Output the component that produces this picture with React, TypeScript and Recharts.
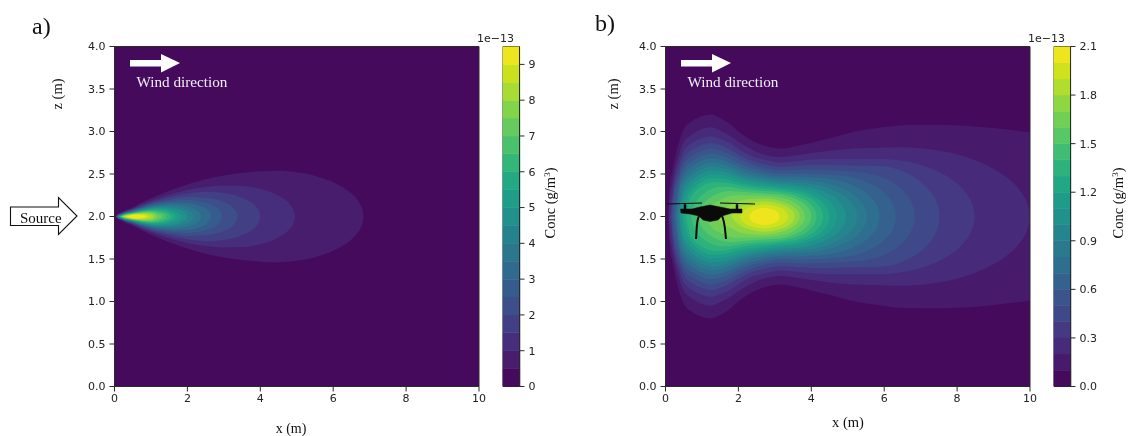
import React from "react"
import { Area, Bar, BarChart, ComposedChart, ReferenceArea, XAxis, YAxis } from "recharts"

// contour outlines, [x in m, half height around z = 2 in m]
const a00 = [[0, 2], [10, 2]]
const a05 = [[0.02, 0], [0.1, 0.033], [0.2, 0.051], [0.3, 0.075], [0.45, 0.098], [0.6, 0.13], [0.8, 0.174], [1, 0.214], [1.3, 0.268], [1.6, 0.317], [2, 0.377], [2.5, 0.437], [3, 0.482], [3.5, 0.511], [4, 0.531], [4.5, 0.537], [5, 0.52], [5.53, 0.475], [6.26, 0.345], [6.5, 0.27], [6.68, 0.186], [6.78, 0.11], [6.82, 0.05], [6.83, 0]]
const a10 = [[0.03, 0], [0.1, 0.027], [0.2, 0.044], [0.3, 0.066], [0.45, 0.086], [0.6, 0.114], [0.8, 0.152], [1, 0.186], [1.3, 0.23], [1.6, 0.267], [2, 0.312], [2.5, 0.347], [3, 0.364], [3.5, 0.36], [4, 0.325], [4.53, 0.237], [4.8, 0.148], [4.92, 0.067], [4.945, 0.03], [4.95, 0]]
const a15 = [[0.04, 0], [0.1, 0.023], [0.2, 0.039], [0.3, 0.059], [0.45, 0.078], [0.6, 0.103], [0.8, 0.137], [1, 0.167], [1.3, 0.204], [1.6, 0.234], [2, 0.267], [2.5, 0.29], [3, 0.276], [3.52, 0.215], [3.89, 0.111], [3.98, 0.048], [4, 0]]
const a20 = [[0.05, 0], [0.1, 0.02], [0.2, 0.035], [0.3, 0.054], [0.45, 0.071], [0.6, 0.095], [0.8, 0.125], [1, 0.152], [1.3, 0.184], [1.6, 0.207], [2, 0.229], [2.5, 0.222], [3, 0.169], [3.25, 0.105], [3.36, 0.042], [3.38, 0]]
const a25 = [[0.06, 0], [0.1, 0.017], [0.2, 0.032], [0.3, 0.05], [0.45, 0.066], [0.6, 0.088], [0.8, 0.116], [1, 0.14], [1.3, 0.167], [1.6, 0.183], [2, 0.195], [2.5, 0.163], [2.83, 0.093], [2.93, 0.039], [2.95, 0]]
const a30 = [[0.07, 0], [0.1, 0.014], [0.2, 0.029], [0.3, 0.046], [0.45, 0.061], [0.6, 0.081], [0.8, 0.107], [1, 0.129], [1.3, 0.151], [1.6, 0.161], [2, 0.16], [2.3, 0.133], [2.55, 0.078], [2.63, 0.036], [2.65, 0]]
const a35 = [[0.08, 0], [0.1, 0.01], [0.2, 0.026], [0.3, 0.042], [0.45, 0.057], [0.6, 0.076], [0.8, 0.1], [1, 0.119], [1.3, 0.136], [1.6, 0.14], [2, 0.12], [2.25, 0.077], [2.36, 0.032], [2.38, 0]]
const a40 = [[0.09, 0], [0.2, 0.024], [0.3, 0.039], [0.45, 0.053], [0.6, 0.07], [0.8, 0.092], [1, 0.11], [1.3, 0.122], [1.6, 0.118], [2, 0.077], [2.15, 0.028], [2.17, 0]]
const a45 = [[0.1, 0], [0.2, 0.021], [0.3, 0.036], [0.45, 0.049], [0.6, 0.065], [0.8, 0.086], [1, 0.1], [1.3, 0.108], [1.6, 0.0975], [1.9, 0.056], [1.98, 0.026], [2, 0]]
const a50 = [[0.11, 0], [0.2, 0.018], [0.3, 0.033], [0.45, 0.045], [0.6, 0.06], [0.8, 0.079], [1, 0.092], [1.3, 0.094], [1.6, 0.069], [1.81, 0.025], [1.83, 0]]
const a55 = [[0.12, 0], [0.2, 0.016], [0.3, 0.03], [0.45, 0.042], [0.6, 0.056], [0.8, 0.072], [1, 0.083], [1.3, 0.079], [1.55, 0.05], [1.66, 0.022], [1.68, 0]]
const a60 = [[0.14, 0], [0.2, 0.012], [0.3, 0.027], [0.45, 0.038], [0.6, 0.051], [0.8, 0.066], [1, 0.074], [1.3, 0.062], [1.53, 0.022], [1.55, 0]]
const a65 = [[0.16, 0], [0.3, 0.024], [0.45, 0.034], [0.6, 0.046], [0.8, 0.059], [1, 0.064], [1.3, 0.04], [1.4, 0.02], [1.42, 0]]
const a70 = [[0.18, 0], [0.3, 0.02], [0.45, 0.031], [0.6, 0.041], [0.8, 0.052], [1, 0.054], [1.2, 0.03], [1.29, 0.015], [1.3, 0]]
const a75 = [[0.2, 0], [0.3, 0.017], [0.45, 0.027], [0.6, 0.036], [0.8, 0.045], [1, 0.043], [1.15, 0.015], [1.17, 0]]
const a80 = [[0.23, 0], [0.3, 0.012], [0.45, 0.022], [0.6, 0.031], [0.8, 0.037], [1, 0.028], [1.06, 0.012], [1.07, 0]]
const a85 = [[0.27, 0], [0.35, 0.012], [0.45, 0.02], [0.6, 0.028], [0.8, 0.027], [0.95, 0.01], [0.97, 0]]
const a90 = [[0.33, 0], [0.45, 0.018], [0.6, 0.025], [0.75, 0.018], [0.86, 0.008], [0.87, 0]]

const b00 = [[0, 2], [10, 2]]
const b01 = [[0.07, 0], [0.1, 0.28], [0.21, 0.58], [0.35, 0.84], [0.48, 1.01], [0.75, 1.13], [1, 1.18], [1.25, 1.2], [1.5, 1.16], [1.76, 1.09], [2, 1], [2.31, 0.91], [2.7, 0.835], [3.18, 0.8], [3.6, 0.83], [4.05, 0.875], [4.5, 0.92], [5.14, 0.995], [5.8, 1.04], [6.6, 1.076], [7.3, 1.08], [7.97, 1.074], [9, 1.04], [10, 0.99]]
const b02 = [[0.09, 0], [0.1, 0.1], [0.21, 0.447], [0.35, 0.69], [0.48, 0.86], [0.75, 0.97], [1, 1.03], [1.25, 1.05], [1.5, 1.01], [1.76, 0.95], [2, 0.88], [2.31, 0.8], [2.7, 0.73], [3.18, 0.7], [3.6, 0.72], [4.05, 0.75], [4.5, 0.775], [5.14, 0.8], [5.8, 0.81], [6.43, 0.816], [7.25, 0.79], [7.97, 0.734], [8.5, 0.662], [9, 0.563], [9.4, 0.448], [9.7, 0.322], [9.88, 0.2], [9.96, 0.105], [9.985, 0.05], [9.99, 0]]
const b03 = [[0.13, 0], [0.21, 0.346], [0.35, 0.59], [0.48, 0.755], [0.75, 0.87], [1, 0.92], [1.25, 0.945], [1.5, 0.916], [1.76, 0.864], [2, 0.796], [2.31, 0.72], [2.7, 0.67], [3.18, 0.635], [3.6, 0.65], [4.05, 0.67], [4.5, 0.68], [5.14, 0.68], [5.8, 0.68], [6.6, 0.65], [7.3, 0.563], [7.6, 0.504], [8.11, 0.345], [8.3, 0.245], [8.42, 0.143], [8.47, 0.06], [8.48, 0]]
const b04 = [[0.16, 0], [0.21, 0.25], [0.35, 0.51], [0.48, 0.67], [0.75, 0.79], [1, 0.84], [1.25, 0.865], [1.5, 0.84], [1.76, 0.79], [2, 0.73], [2.31, 0.666], [2.7, 0.615], [3.18, 0.585], [3.6, 0.595], [4.05, 0.605], [4.5, 0.605], [5.14, 0.6], [5.88, 0.594], [6.62, 0.51], [7.17, 0.345], [7.35, 0.247], [7.45, 0.16], [7.51, 0.06], [7.52, 0]]
const b05 = [[0.195, 0], [0.21, 0.137], [0.35, 0.434], [0.48, 0.6], [0.75, 0.72], [1, 0.775], [1.25, 0.8], [1.5, 0.777], [1.76, 0.734], [2, 0.678], [2.31, 0.62], [2.7, 0.57], [3.18, 0.54], [3.6, 0.55], [4.05, 0.553], [4.5, 0.545], [5.15, 0.53], [5.97, 0.455], [6.48, 0.318], [6.65, 0.237], [6.75, 0.165], [6.83, 0.055], [6.84, 0]]
const b06 = [[0.23, 0], [0.35, 0.36], [0.48, 0.534], [0.75, 0.656], [1, 0.714], [1.25, 0.74], [1.5, 0.72], [1.76, 0.68], [2, 0.63], [2.31, 0.576], [2.7, 0.534], [3.18, 0.505], [3.6, 0.507], [4.05, 0.504], [4.5, 0.49], [5.14, 0.459], [5.6, 0.39], [6.05, 0.257], [6.25, 0.134], [6.31, 0.05], [6.32, 0]]
const b07 = [[0.27, 0], [0.35, 0.28], [0.48, 0.47], [0.75, 0.6], [1, 0.66], [1.25, 0.686], [1.5, 0.67], [1.76, 0.635], [2, 0.587], [2.31, 0.538], [2.7, 0.5], [3.18, 0.47], [3.6, 0.47], [4.05, 0.46], [4.5, 0.443], [5.2, 0.354], [5.65, 0.22], [5.82, 0.115], [5.87, 0.046], [5.88, 0]]
const b08 = [[0.31, 0], [0.35, 0.19], [0.48, 0.41], [0.75, 0.54], [1, 0.606], [1.25, 0.635], [1.5, 0.62], [1.76, 0.59], [2, 0.547], [2.31, 0.5], [2.7, 0.468], [3.18, 0.44], [3.6, 0.433], [4.05, 0.421], [4.5, 0.383], [4.9, 0.32], [5.32, 0.197], [5.48, 0.098], [5.525, 0.04], [5.53, 0]]
const b09 = [[0.35, 0], [0.48, 0.343], [0.75, 0.49], [1, 0.556], [1.25, 0.587], [1.5, 0.578], [1.76, 0.55], [2, 0.51], [2.31, 0.47], [2.7, 0.438], [3.18, 0.41], [3.6, 0.4], [4.05, 0.38], [4.65, 0.3], [5.06, 0.18], [5.2, 0.095], [5.245, 0.04], [5.25, 0]]
const b10 = [[0.39, 0], [0.48, 0.27], [0.75, 0.436], [1, 0.507], [1.25, 0.54], [1.5, 0.535], [1.76, 0.51], [2, 0.473], [2.31, 0.437], [2.7, 0.41], [3.18, 0.38], [3.6, 0.369], [4.05, 0.334], [4.4, 0.28], [4.78, 0.166], [4.9, 0.09], [4.945, 0.035], [4.95, 0]]
const b11 = [[0.44, 0], [0.48, 0.19], [0.75, 0.38], [1, 0.458], [1.25, 0.495], [1.5, 0.49], [1.76, 0.47], [2, 0.437], [2.31, 0.406], [2.7, 0.38], [3.18, 0.355], [3.6, 0.337], [4.2, 0.26], [4.54, 0.158], [4.66, 0.08], [4.695, 0.03], [4.7, 0]]
const b12 = [[0.48, 0], [0.6, 0.22], [0.75, 0.32], [1, 0.41], [1.25, 0.45], [1.5, 0.45], [1.76, 0.43], [2, 0.4], [2.31, 0.375], [2.7, 0.355], [3.18, 0.33], [3.6, 0.308], [4.05, 0.242], [4.35, 0.149], [4.46, 0.078], [4.495, 0.03], [4.5, 0]]
const b13 = [[0.57, 0], [0.65, 0.176], [0.75, 0.26], [1, 0.357], [1.25, 0.4], [1.5, 0.406], [1.76, 0.39], [2, 0.367], [2.31, 0.345], [2.7, 0.327], [3.18, 0.305], [3.85, 0.237], [4.17, 0.144], [4.28, 0.076], [4.315, 0.03], [4.32, 0]]
const b14 = [[0.7, 0], [0.75, 0.1], [1, 0.25], [1.25, 0.32], [1.5, 0.35], [1.76, 0.35], [2, 0.33], [2.31, 0.314], [2.7, 0.3], [3.18, 0.282], [3.6, 0.239], [4, 0.134], [4.1, 0.073], [4.135, 0.03], [4.14, 0]]
const b15 = [[0.85, 0], [1, 0.13], [1.25, 0.23], [1.5, 0.28], [1.76, 0.3], [2, 0.293], [2.31, 0.282], [2.7, 0.27], [3.18, 0.256], [3.6, 0.2], [3.85, 0.13], [3.96, 0.069], [3.995, 0.03], [4, 0]]
const b16 = [[1.1, 0], [1.25, 0.12], [1.5, 0.19], [1.76, 0.24], [2, 0.25], [2.31, 0.248], [2.7, 0.244], [3.18, 0.221], [3.6, 0.146], [3.75, 0.085], [3.81, 0.04], [3.82, 0]]
const b17 = [[1.45, 0], [1.55, 0.07], [1.76, 0.13], [2, 0.18], [2.31, 0.205], [2.7, 0.213], [3.18, 0.18], [3.5, 0.118], [3.63, 0.064], [3.675, 0.03], [3.68, 0]]
const b18 = [[1.8, 0], [2, 0.09], [2.31, 0.15], [2.7, 0.18], [3.18, 0.145], [3.4, 0.097], [3.5, 0.053], [3.535, 0.02], [3.54, 0]]
const b19 = [[2.04, 0], [2.1, 0.05], [2.31, 0.11], [2.7, 0.14], [3.18, 0.096], [3.3, 0.058], [3.355, 0.02], [3.36, 0]]
const b20 = [[2.3, 0], [2.31, 0.02], [2.35, 0.047], [2.45, 0.077], [2.7, 0.1], [2.95, 0.082], [3.08, 0.047], [3.12, 0.02], [3.13, 0]]

const contoursA = [a00, a05, a10, a15, a20, a25, a30, a35, a40, a45, a50, a55, a60, a65, a70, a75, a80, a85, a90]
const contoursB = [b00, b01, b02, b03, b04, b05, b06, b07, b08, b09, b10, b11, b12, b13, b14, b15, b16, b17, b18, b19, b20]

const xTicks = [0, 2, 4, 6, 8, 10]
const zTicks = [0, 0.5, 1, 1.5, 2, 2.5, 3, 3.5, 4]
const barTicksA = [0, 1, 2, 3, 4, 5, 6, 7, 8, 9]
const barTicksB = [0, 0.3, 0.6, 0.9, 1.2, 1.5, 1.8, 2.1]
const bandStepA = 0.5
const bandStepB = 0.1

const VIRIDIS = ["#440154", "#471365", "#482475", "#463480", "#414487", "#3b528b", "#355f8d", "#2f6c8e", "#2a788e", "#25848e", "#21918c", "#1e9c89", "#22a884", "#2fb47c", "#44bf70", "#5ec962", "#7ad151", "#9bd93c", "#bddf26", "#dfe318", "#fde725"]

function viridis(t: number) {
  const pos = t * (VIRIDIS.length - 1)
  const i = Math.min(Math.floor(pos), VIRIDIS.length - 2)
  const f = pos - i
  const rgb = [1, 3, 5].map((k) => {
    const a = parseInt(VIRIDIS[i].slice(k, k + 2), 16)
    const b = parseInt(VIRIDIS[i + 1].slice(k, k + 2), 16)
    return Math.round(a + (b - a) * f)
  })
  return `rgb(${rgb.join(",")})`
}

const tickStyle = { fontFamily: "DejaVu Sans", fontSize: 11, fill: "#222" }
const axisLine = { stroke: "#2b2b2b" }
const SERIF = "Liberation Serif"

function toRows(points: number[][]) {
  return points.map(([x, hw]) => ({ x, band: [2 - hw, 2 + hw] }))
}

function Panel({ left, contours }: { left: number; contours: number[][][] }) {
  return (
    <div style={{ position: "absolute", left, top: 36 }}>
      <ComposedChart width={416} height={371} margin={{ top: 10.5, right: 11, bottom: 0.5, left: 10.5 }}>
        <XAxis
          type="number"
          dataKey="x"
          domain={[0, 10]}
          ticks={xTicks}
          allowDataOverflow
          height={20}
          tickSize={5}
          tickMargin={3}
          tick={tickStyle}
          stroke="#2b2b2b"
          axisLine={axisLine}
        />
        <YAxis
          type="number"
          domain={[0, 4]}
          ticks={zTicks}
          allowDataOverflow
          width={30}
          tickSize={5}
          tickMargin={4}
          tick={tickStyle}
          stroke="#2b2b2b"
          axisLine={axisLine}
          tickFormatter={(v: number) => v.toFixed(1)}
        />
        {contours.map((points, i) => (
          <Area
            key={i}
            data={toRows(points)}
            dataKey="band"
            type="monotone"
            fill={viridis((i + 0.5) / contours.length)}
            fillOpacity={1}
            stroke="none"
            dot={false}
            activeDot={false}
            isAnimationActive={false}
          />
        ))}
        <ReferenceArea x1={0} x2={10} y1={0} y2={4} fill="none" stroke="#2b2b2b" ifOverflow="visible" />
      </ComposedChart>
    </div>
  )
}

function ColorBar({ left, bands, step, ticks, format }: { left: number; bands: number; step: number; ticks: number[]; format: (v: number) => string }) {
  const row: Record<string, number | string> = { name: "conc" }
  for (let i = 0; i < bands; i++) row[`b${i}`] = step
  const top = bands * step
  return (
    <div style={{ position: "absolute", left, top: 36 }}>
      <BarChart width={60} height={371} data={[row]} barCategoryGap={0} margin={{ top: 10.5, right: 5.5, bottom: 20.5, left: 8 }}>
        <XAxis dataKey="name" hide />
        <YAxis
          orientation="right"
          type="number"
          domain={[0, top]}
          ticks={ticks}
          allowDataOverflow
          width={30}
          tickSize={5}
          tickMargin={4}
          tick={{ ...tickStyle, textAnchor: "start" }}
          stroke="#2b2b2b"
          axisLine={axisLine}
          tickFormatter={format}
        />
        {Array.from({ length: bands }, (_, i) => (
          <Bar
            key={i}
            dataKey={`b${i}`}
            stackId="c"
            fill={viridis((i + 0.5) / bands)}
            stroke={viridis((i + 0.5) / bands)}
            strokeWidth={0.6}
            isAnimationActive={false}
          />
        ))}
        <ReferenceArea y1={0} y2={top} fill="none" stroke="#2b2b2b" ifOverflow="visible" />
      </BarChart>
    </div>
  )
}

function WindNote({ dx }: { dx: number }) {
  return (
    <g transform={`translate(${dx},0)`}>
      <polygon points="130,60 161,60 161,54 180,63 161,72.5 161,66.5 130,66.5" fill="#fff" />
      <text x={136.5} y={87} fontFamily={SERIF} fontSize={15.2} fill="#f2eef5">Wind direction</text>
    </g>
  )
}

function ConcLabel({ x }: { x: number }) {
  return (
    <text transform={`translate(${x},203) rotate(-90)`} textAnchor="middle" fontFamily={SERIF} fontSize={14.5} fill="#111">
      Conc (g/m<tspan dy={-5} fontSize={9}>3</tspan><tspan dy={5}>)</tspan>
    </text>
  )
}

function Overlay() {
  return (
    <svg width={1128} height={436} style={{ position: "absolute", left: 0, top: 0, pointerEvents: "none" }}>
      <text x={32} y={34} fontFamily={SERIF} fontSize={24} fill="#111">a)</text>
      <text x={595} y={31} fontFamily={SERIF} fontSize={24} fill="#111">b)</text>
      <WindNote dx={0} />
      <WindNote dx={551} />

      <text x={291} y={432.5} textAnchor="middle" fontFamily={SERIF} fontSize={14} fill="#111">x (m)</text>
      <text x={848} y={427} textAnchor="middle" fontFamily={SERIF} fontSize={14.5} fill="#111">x (m)</text>
      <text transform="translate(62,94) rotate(-90)" textAnchor="middle" fontFamily={SERIF} fontSize={14.5} fill="#111">z (m)</text>
      <text transform="translate(618,94) rotate(-90)" textAnchor="middle" fontFamily={SERIF} fontSize={14.5} fill="#111">z (m)</text>
      <ConcLabel x={555} />
      <ConcLabel x={1123} />

      <text x={477} y={42} fontFamily="DejaVu Sans" fontSize={11} fill="#222">1e−13</text>
      <text x={1028} y={42} fontFamily="DejaVu Sans" fontSize={11} fill="#222">1e−13</text>

      <polygon points="10.5,207 58.5,207 58.5,197.5 77,216 58.5,234.5 58.5,225.5 10.5,225.5" fill="#fff" stroke="#111" strokeWidth={1.1} />
      <text x={20} y={223} fontFamily={SERIF} fontSize={15} fill="#111">Source</text>

      {/* drone silhouette */}
      <g fill="#0a0a0a" stroke="#0a0a0a">
        <path strokeWidth={0.5} d="M680.5,209 L684,209 L684,204.5 L686,204.5 L686,209 L692,209 L700,207 L710,205 L720,207 L730,209 L736,209 L736,204.5 L738,204.5 L738,209 L742,209 L742,213 L732,213 L722,216 L718,220 L710,221.5 L703,220 L699,216 L690,214 L681,213 Z" />
        <path fill="none" strokeWidth={2} d="M699,216 C696,222 697,230 696,239" />
        <path fill="none" strokeWidth={2} d="M722,216 C725,222 725,230 726,239" />
        <path fill="none" strokeWidth={1} d="M667,204 L702,203 M720,203 L755,204" />
      </g>
    </svg>
  )
}

export default function App() {
  return (
    <div style={{ position: "absolute", left: 0, top: 0, width: 1128, height: 436, background: "#fff", overflow: "hidden", filter: "blur(0.3px)" }}>
      <Panel left={74} contours={contoursA} />
      <Panel left={625} contours={contoursB} />
      <ColorBar left={495} bands={contoursA.length} step={bandStepA} ticks={barTicksA} format={(v) => String(v)} />
      <ColorBar left={1045.5} bands={contoursB.length} step={bandStepB} ticks={barTicksB} format={(v) => v.toFixed(1)} />
      <Overlay />
    </div>
  )
}
